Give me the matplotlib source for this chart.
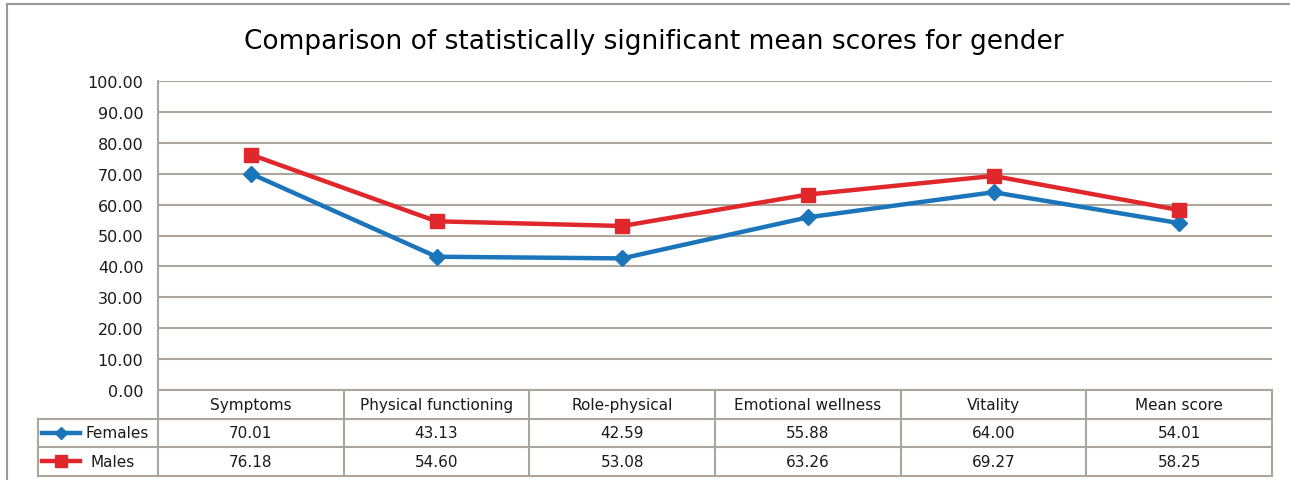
import numpy as np
import matplotlib
matplotlib.use("Agg")
import matplotlib.pyplot as plt
from matplotlib.lines import Line2D
from matplotlib.transforms import blended_transform_factory

plt.rcParams['font.family'] = ['DejaVu Sans']

categories = ['Symptoms', 'Physical functioning', 'Role-physical',
              'Emotional wellness', 'Vitality', 'Mean score']
females = [70.01, 43.13, 42.59, 55.88, 64.00, 54.01]
males = [76.18, 54.60, 53.08, 63.26, 69.27, 58.25]
series_names = ['Females', 'Males']
yticks = np.arange(0, 101, 10)

blue = '#1b75bb'
red = '#e0272c'
grid_col = '#aaa69d'
text_col = '#1a1a1a'

W, H = 1290, 481
fig = plt.figure(figsize=(W / 100, H / 100), dpi=100)

# plot area in pixels: x 158..1272, y 82..391 (from top)
left, right, top, bottom = 158, 1272, 82, 391
ax = fig.add_axes([left / W, 1 - bottom / H, (right - left) / W, (bottom - top) / H])

x = np.arange(len(categories))
ax.plot(x, females, color=blue, lw=3.2, marker='D', ms=8, zorder=3)
ax.plot(x, males, color=red, lw=3.2, marker='s', ms=10, zorder=4)

ax.set_xlim(-0.5, len(categories) - 0.5)
ax.set_ylim(0, 100)
ax.set_yticks(yticks)
ax.set_yticklabels(['%.2f' % v for v in yticks], fontsize=11.5, color=text_col)
ax.tick_params(axis='y', length=0, pad=10.5)
ax.set_xticks([])
ax.grid(axis='y', color=grid_col, lw=1.5)
ax.set_axisbelow(True)
for s in ['top', 'right']:
    ax.spines[s].set_visible(False)
for s in ['left', 'bottom']:
    ax.spines[s].set_color(grid_col)
    ax.spines[s].set_linewidth(1.5)

# data table under the axis
row_h = 28.5 / (bottom - top)
trans = blended_transform_factory(ax.transData, ax.transAxes)
tbl_kw = dict(color=grid_col, lw=1.5, clip_on=False, transform=trans)
n = len(categories)
# horizontal lines
for k in (1, 2, 3):
    ax.add_line(Line2D([-0.5, n - 0.5], [-k * row_h, -k * row_h], **tbl_kw))
# vertical lines
for i in range(n + 1):
    ax.add_line(Line2D([i - 0.5, i - 0.5], [0, -3 * row_h], **tbl_kw))

# legend column in pixel-based x
px = (right - left) / n  # pixels per category
leg_left = -0.5 - (left - 38) / px
for k in (1, 2, 3):
    ax.add_line(Line2D([leg_left, -0.5], [-k * row_h, -k * row_h], **tbl_kw))
ax.add_line(Line2D([leg_left, leg_left], [-row_h, -3 * row_h], **tbl_kw))

fs = 11
for i, c in enumerate(categories):
    ax.text(i, -0.5 * row_h, c, transform=trans, ha='center', va='center',
            fontsize=fs, color=text_col)
    ax.text(i, -1.5 * row_h, '%.2f' % females[i], transform=trans,
            ha='center', va='center', fontsize=fs, color=text_col)
    ax.text(i, -2.5 * row_h, '%.2f' % males[i], transform=trans,
            ha='center', va='center', fontsize=fs, color=text_col)

leg_styles = [(blue, 'D', 6), (red, 's', 9)]
for r, (name, (col, mk, ms)) in enumerate(zip(series_names, leg_styles)):
    yy = -(1.5 + r) * row_h
    x0 = -0.5 - (left - 42) / px
    x1 = -0.5 - (left - 80) / px
    xm = -0.5 - (left - 61) / px
    ax.add_line(Line2D([x0, x1], [yy, yy], color=col, lw=3.2,
                       clip_on=False, transform=trans))
    ax.add_line(Line2D([xm], [yy], color=col, marker=mk, ms=ms,
                       clip_on=False, transform=trans))
    xt = -0.5 - (left - (117 if r == 0 else 113)) / px
    ax.text(xt, yy, name, transform=trans, ha='center', va='center',
            fontsize=fs, color=text_col)

# outer chart border (top and left)
fig.add_artist(Line2D([7 / W, 7 / W], [0, 1 - 5 / H], color='#9a9a9a', lw=1.5,
                      transform=fig.transFigure))
fig.add_artist(Line2D([7 / W, 1], [1 - 5 / H, 1 - 5 / H], color='#9a9a9a', lw=1.5,
                      transform=fig.transFigure))

fig.text(654 / W, 1 - 42 / H, 'Comparison of statistically significant mean scores for gender',
         ha='center', va='center', fontsize=19, color='black')

fig.savefig('out.png', dpi=100)
